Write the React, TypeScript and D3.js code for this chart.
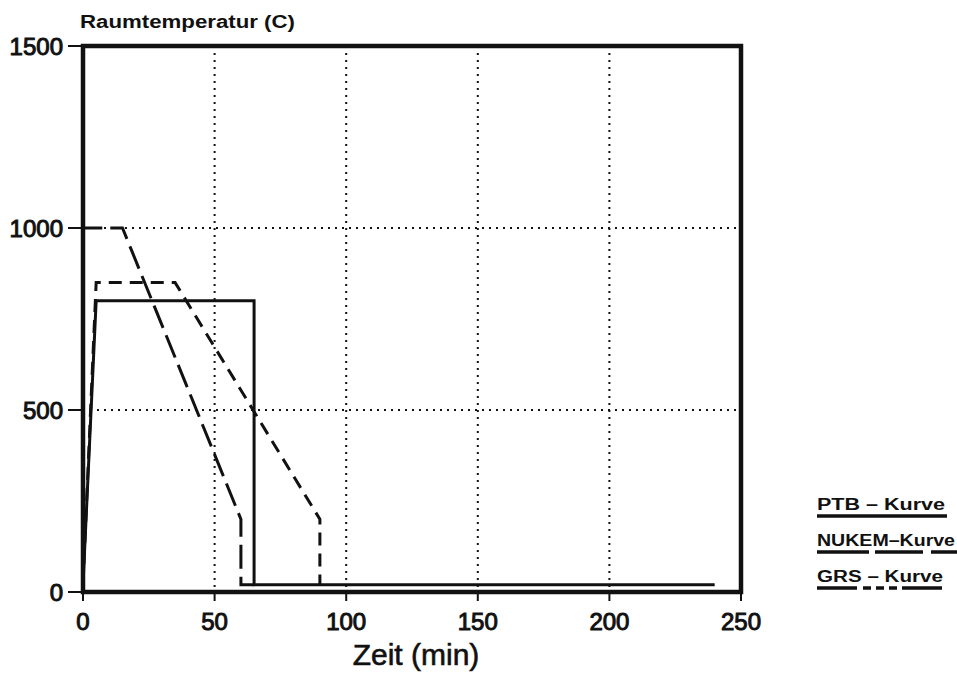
import React from "react";
import * as d3 from "d3";

// Room temperature curves (time in min, temperature in °C)
const ptbTime = [0, 5, 65, 65, 240];
const ptbTemp = [20, 800, 800, 20, 20];
const nukemTime = [0, 0, 15, 60, 60, 65];
const nukemTemp = [20, 1000, 1000, 200, 20, 20];
const grsTime = [0, 5, 35, 90, 90];
const grsTemp = [20, 850, 850, 200, 20];

const xTicks = [0, 50, 100, 150, 200, 250];
const yTicks = [0, 500, 1000, 1500];
const xGrid = [50, 100, 150, 200];
const yGrid = [500, 1000];

const legendLabels = ["PTB – Kurve", "NUKEM–Kurve", "GRS – Kurve"];

const W = 957;
const H = 675;
const left = 83;
const right = 741;
const top = 46;
const bottom = 592;

export default function App() {
  const x = d3.scaleLinear().domain([0, 250]).range([left, right]);
  const y = d3.scaleLinear().domain([0, 1500]).range([bottom, top]);

  const line = d3
    .line<[number, number]>()
    .x((d) => x(d[0]))
    .y((d) => y(d[1]));

  const zip = (a: number[], b: number[]) => a.map((v, i) => [v, b[i]] as [number, number]);

  const series = [
    { pts: zip(ptbTime, ptbTemp), dash: "none", legendDash: "none", textLen: 128 },
    { pts: zip(nukemTime, nukemTemp), dash: "24 8", legendDash: "52 6 48 8 40", textLen: 138 },
    { pts: zip(grsTime, grsTemp), dash: "13 8", legendDash: "40 6 8 5 8 5 8 5 40", textLen: 126 },
  ];

  const font = "'Liberation Sans', Arial, sans-serif";

  return (
    <svg
      width={W}
      height={H}
      style={{ position: "absolute", left: 0, top: 0, background: "#fff" }}
      fontFamily={font}
    >
      <rect x={0} y={0} width={W} height={H} fill="#fff" />

      {/* grid */}
      {xGrid.map((v) => (
        <line
          key={"gx" + v}
          x1={x(v)}
          x2={x(v)}
          y1={top}
          y2={bottom}
          stroke="#111"
          strokeWidth={2}
          strokeDasharray="2 5"
        />
      ))}
      {yGrid.map((v) => (
        <line
          key={"gy" + v}
          x1={left}
          x2={right}
          y1={y(v)}
          y2={y(v)}
          stroke="#111"
          strokeWidth={2}
          strokeDasharray="2 5"
        />
      ))}

      {/* curves */}
      {series.map((s, i) => (
        <path
          key={i}
          d={line(s.pts) || ""}
          fill="none"
          stroke="#111"
          strokeWidth={3}
          strokeDasharray={s.dash}
          strokeLinejoin="miter"
        />
      ))}

      {/* frame */}
      <rect
        x={left}
        y={top}
        width={right - left}
        height={bottom - top}
        fill="none"
        stroke="#111"
        strokeWidth={4.5}
      />

      {/* y axis */}
      {yTicks.map((v) => (
        <g key={"yt" + v}>
          <line x1={left - 15} x2={left} y1={y(v)} y2={y(v)} stroke="#111" strokeWidth={2} />
          <text
            x={63}
            y={y(v) + 9}
            textAnchor="end"
            fontSize={24}
            fill="#111"
            stroke="#111"
            strokeWidth={1}
          >
            {v}
          </text>
        </g>
      ))}

      {/* x axis */}
      {xTicks.map((v) => (
        <g key={"xt" + v}>
          <line x1={x(v)} x2={x(v)} y1={bottom} y2={bottom + 9} stroke="#111" strokeWidth={2} />
          <text
            x={x(v)}
            y={630}
            textAnchor="middle"
            fontSize={24}
            fill="#111"
            stroke="#111"
            strokeWidth={1}
          >
            {v}
          </text>
        </g>
      ))}

      <text
        x={416}
        y={665}
        textAnchor="middle"
        fontSize={30}
        fill="#111"
        stroke="#111"
        strokeWidth={0.6}
      >
        Zeit (min)
      </text>
      <text
        x={80}
        y={28}
        fontSize={18}
        fontWeight="bold"
        fill="#111"
        textLength={215}
        lengthAdjust="spacingAndGlyphs"
      >
        Raumtemperatur (C)
      </text>

      {/* legend */}
      {legendLabels.map((lab, i) => {
        const ly = 510 + i * 36;
        const s = series[i];
        return (
          <g key={lab}>
            <text
              x={817}
              y={ly}
              fontSize={16}
              fontWeight="bold"
              fill="#111"
              textLength={s.textLen}
              lengthAdjust="spacingAndGlyphs"
            >
              {lab}
            </text>
            <line
              x1={817}
              x2={817 + s.textLen + 2}
              y1={ly + 6}
              y2={ly + 6}
              stroke="#111"
              strokeWidth={3.5}
              strokeDasharray={s.legendDash}
            />
          </g>
        );
      })}
    </svg>
  );
}
